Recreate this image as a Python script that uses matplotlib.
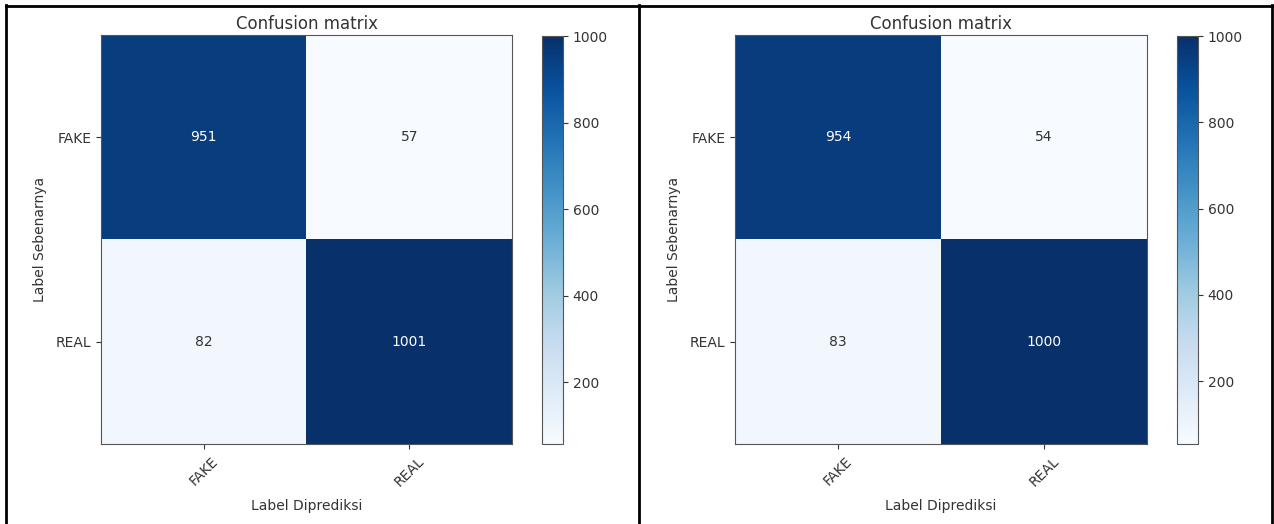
import matplotlib
matplotlib.use("Agg")
import matplotlib.pyplot as plt
import numpy as np
from matplotlib.lines import Line2D

classes = ["FAKE", "REAL"]
cm_left = [[951, 57], [82, 1001]]
cm_right = [[954, 54], [83, 1000]]
title = "Confusion matrix"
ylabel = "Label Sebenarnya"
xlabel = "Label Diprediksi"

W, H = 1274, 524
fig = plt.figure(figsize=(W / 100, H / 100), dpi=100)

TXT = "#333333"
SPINE = "#555555"

def fx(px):
    return px / W

def fy(py):
    return 1 - py / H

def draw(cm, ax_box, cb_box):
    cm = np.array(cm)
    ax = fig.add_axes(ax_box)
    cax = fig.add_axes(cb_box)
    im = ax.imshow(cm, interpolation="nearest", cmap=plt.cm.Blues, aspect="auto")
    ax.set_title(title, fontsize=12, pad=4, color=TXT)
    cb = fig.colorbar(im, cax=cax)
    cb.ax.tick_params(labelsize=10, colors=TXT)
    cb.outline.set_edgecolor(SPINE)
    ticks = np.arange(len(classes))
    ax.set_xticks(ticks)
    ax.set_xticklabels(classes, rotation=45, fontsize=10)
    ax.set_yticks(ticks)
    ax.set_yticklabels(classes, fontsize=10)
    ax.tick_params(colors=TXT)
    for s in ax.spines.values():
        s.set_edgecolor(SPINE)
    thresh = cm.max() / 2.0
    for i in range(cm.shape[0]):
        for j in range(cm.shape[1]):
            ax.text(j, i, format(cm[i, j], "d"), ha="center", va="center",
                    fontsize=10,
                    color="white" if cm[i, j] > thresh else TXT)
    ax.set_ylabel(ylabel, fontsize=10, color=TXT, labelpad=6)
    ax.set_xlabel(xlabel, fontsize=10, color=TXT, labelpad=7)
    return ax

def box(x0, x1, y0, y1):
    return [fx(x0), fy(y1), (x1 - x0) / W, (y1 - y0) / H]

draw(cm_left, box(101, 512, 35, 444), box(542, 563, 36, 444))
draw(cm_right, box(735, 1147, 35, 444), box(1177, 1198, 36, 444))

# table-like borders
lw = 2.0
for xs, ys in [
    ([fx(6.5), fx(6.5)], [fy(5), fy(524)]),
    ([fx(638.5), fx(638.5)], [fy(5), fy(524)]),
    ([fx(1272), fx(1272)], [fy(5), fy(524)]),
    ([fx(5.5), fx(1273)], [fy(5.5), fy(5.5)]),
]:
    fig.add_artist(Line2D(xs, ys, color="black", lw=lw, transform=fig.transFigure))

fig.savefig("out.png", dpi=100)
